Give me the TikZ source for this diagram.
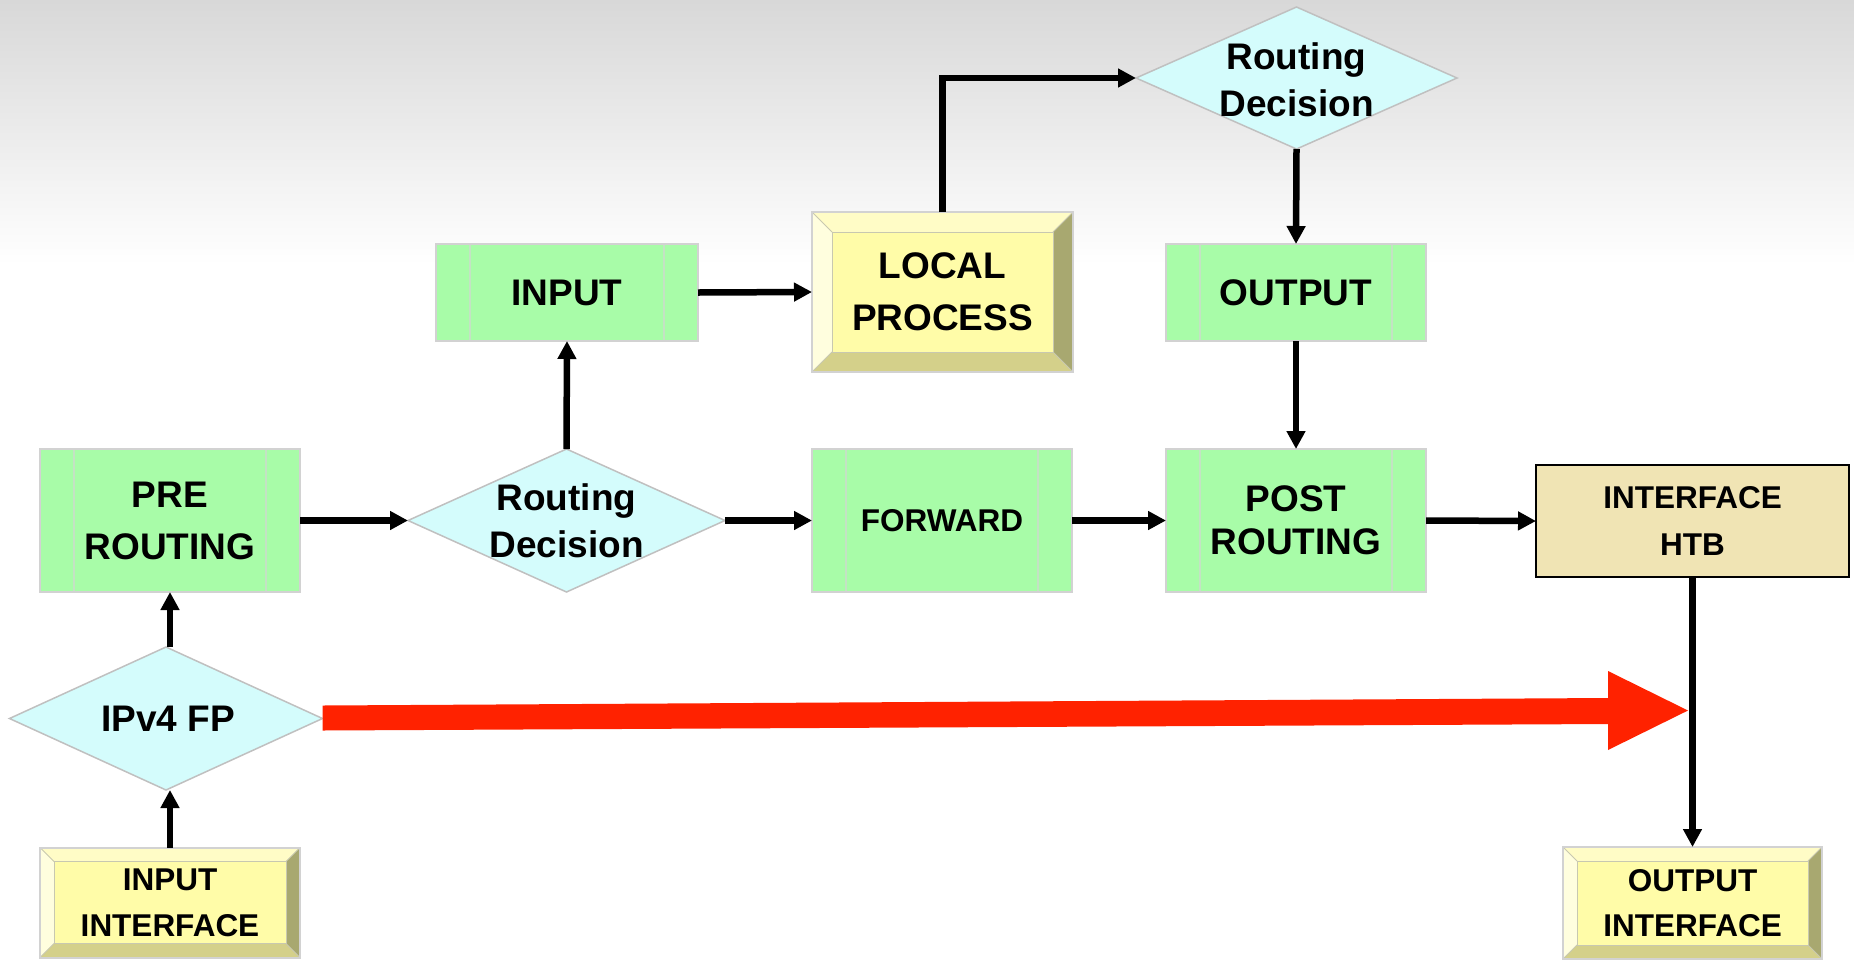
\documentclass[tikz,border=0pt]{standalone}
\usepackage{fontspec}
\setmainfont{Liberation Sans}
\usetikzlibrary{shapes.geometric,arrows.meta,calc}
\definecolor{bgtop}{RGB}{216,216,216}
\definecolor{greenfill}{RGB}{168,252,168}
\definecolor{boxline}{RGB}{210,210,210}
\definecolor{stripeline}{RGB}{196,226,196}
\definecolor{cyanfill}{RGB}{212,252,252}
\definecolor{diaLine}{RGB}{192,192,192}
\definecolor{yface}{RGB}{255,252,168}
\definecolor{ytop}{RGB}{255,252,198}
\definecolor{yleft}{RGB}{255,254,222}
\definecolor{yright}{RGB}{168,168,112}
\definecolor{ybottom}{RGB}{212,208,138}
\definecolor{bevline}{RGB}{200,200,176}
\definecolor{htbfill}{RGB}{240,228,180}
\definecolor{redarrow}{RGB}{255,34,0}

\newcommand{\bevelbox}[2]{%
  \fill[ytop] (#1.north west) -- (#1.north east) -- ($(#1.north east)+(-#2,#2)$) -- ($(#1.north west)+(#2,#2)$) -- cycle;
  \fill[yleft] (#1.north west) -- ($(#1.north west)+(#2,#2)$) -- ($(#1.south west)+(#2,-#2)$) -- (#1.south west) -- cycle;
  \fill[yright] (#1.north east) -- ($(#1.north east)+(-#2,#2)$) -- ($(#1.south east)+(-#2,-#2)$) -- (#1.south east) -- cycle;
  \fill[ybottom] (#1.south west) -- ($(#1.south west)+(#2,-#2)$) -- ($(#1.south east)+(-#2,-#2)$) -- (#1.south east) -- cycle;
  \draw[bevline, line width=1pt] ($(#1.north west)+(#2,#2)$) rectangle ($(#1.south east)+(-#2,-#2)$);
  \draw[bevline, line width=1pt] (#1.north west) -- ($(#1.north west)+(#2,#2)$)
     (#1.north east) -- ($(#1.north east)+(-#2,#2)$)
     (#1.south west) -- ($(#1.south west)+(#2,-#2)$)
     (#1.south east) -- ($(#1.south east)+(-#2,-#2)$);
  \draw[boxline, line width=2pt] (#1.north west) rectangle (#1.south east);
}
\newcommand{\greenstripes}[1]{%
  \draw[stripeline, line width=1.2pt] ($(#1.north west)+(34,1)$) -- ($(#1.south west)+(34,-1)$)
     ($(#1.north east)+(-34,1)$) -- ($(#1.south east)+(-34,-1)$);
}

\begin{document}
\begin{tikzpicture}[x=1pt,y=-1pt,
  greenbox/.style={draw=boxline, line width=1.8pt, fill=greenfill, minimum width=260pt,
     minimum height=143pt, inner sep=0pt, outer sep=0pt, align=center},
  ybox/.style={fill=yface, minimum width=260pt, minimum height=110pt, inner sep=0pt,
     outer sep=0pt, align=center},
  dia/.style={shape=diamond, draw=diaLine, line width=1.5pt, fill=cyanfill,
     minimum width=317pt, minimum height=143pt, inner sep=0pt, outer sep=0pt},
  bigA/.style={font=\fontsize{37}{50}\selectfont\bfseries},
  conn/.style={line width=6.5pt, -{Triangle[length=18pt,width=18pt]}},
]
\useasboundingbox (0,0) rectangle (1854,959);
\fill[white] (0,0) rectangle (1854,959);
\shade[top color=bgtop, bottom color=white] (0,0) rectangle (1854,265);

% green boxes
\node[greenbox, font=\fontsize{37}{52}\selectfont\bfseries] (pre) at (170,520.5) {PRE\\ROUTING};
\node[greenbox, minimum width=262pt, minimum height=97pt, bigA] (inp) at (567,292.5) {INPUT};
\node[greenbox, minimum height=97pt, bigA] (outp) at (1296,292.5) {OUTPUT};
\node[greenbox, font=\fontsize{31.5}{40}\selectfont\bfseries] (fwd) at (942,520.5) {FORWARD};
\node[greenbox, font=\fontsize{37}{43}\selectfont\bfseries] (post) at (1296,520.5) {POST\\ROUTING};
\greenstripes{pre}
\greenstripes{inp}
\greenstripes{outp}
\greenstripes{fwd}
\greenstripes{post}

% bevel boxes
\node[ybox, minimum width=261pt, minimum height=160pt, font=\fontsize{37}{52}\selectfont\bfseries] (lp) at (942.5,292) {LOCAL\\PROCESS};
\bevelbox{lp}{20}
\node[ybox, font=\fontsize{31.5}{46}\selectfont\bfseries] (ii) at (170,902.5) {INPUT\\INTERFACE};
\bevelbox{ii}{14}
\node[ybox, minimum width=259pt, minimum height=112pt, font=\fontsize{31.5}{45}\selectfont\bfseries] (oi) at (1692.5,903) {OUTPUT\\INTERFACE};
\bevelbox{oi}{14}

% HTB
\node[draw=black, line width=2.5pt, fill=htbfill, minimum width=313pt, minimum height=112pt,
  inner sep=0pt, outer sep=0pt, align=center, font=\fontsize{31.5}{47}\selectfont\bfseries] (htb) at (1692.5,521) {INTERFACE\\HTB};

% diamonds
\node[dia] (rd1) at (566.5,520.5) {};
\node[font=\fontsize{37}{47}\selectfont\bfseries, align=center, inner sep=0pt] (rd1t) at (566.5,521) {Routing\\Decision};
\node[dia, minimum width=321pt, minimum height=142pt] (rd2) at (1296.5,78) {};
\node[font=\fontsize{37}{47}\selectfont\bfseries, align=center, inner sep=0pt] (rd2t) at (1296.5,80) {Routing\\Decision};
\node[dia, minimum width=313pt] (ipv4) at (166,718.5) {};
\node[bigA, inner sep=0pt] (ipv4t) at (168,719) {IPv4 FP};

% connectors
\draw[conn] (pre.east) -- (rd1.west);
\draw[conn] (rd1.north) -- (inp.south);
\draw[conn] (inp.east) -- (lp.west);
\draw[conn] (lp.north) |- (rd2.west);
\draw[conn] (rd2.south) -- (outp.north);
\draw[conn] (outp.south) -- (post.north);
\draw[conn] (rd1.east) -- (fwd.west);
\draw[conn] (fwd.east) -- (post.west);
\draw[conn] (post.east) -- (htb.west);
\draw[conn] (htb.south) -- (oi.north);
\draw[conn] (pre.south |- ipv4.north) -- (pre.south);
\draw[conn] (ii.north) -- (ii.north |- ipv4.south);

% red arrow
\coordinate (redtip) at (1688,710.5);
\fill[redarrow] ($(ipv4.east)+(0,-13)$) -- (1608,698) -- (1608,671) -- (redtip)
  -- (1608,750) -- (1608,724) -- ($(ipv4.east)+(0,12)$) -- cycle;
\end{tikzpicture}
\end{document}
